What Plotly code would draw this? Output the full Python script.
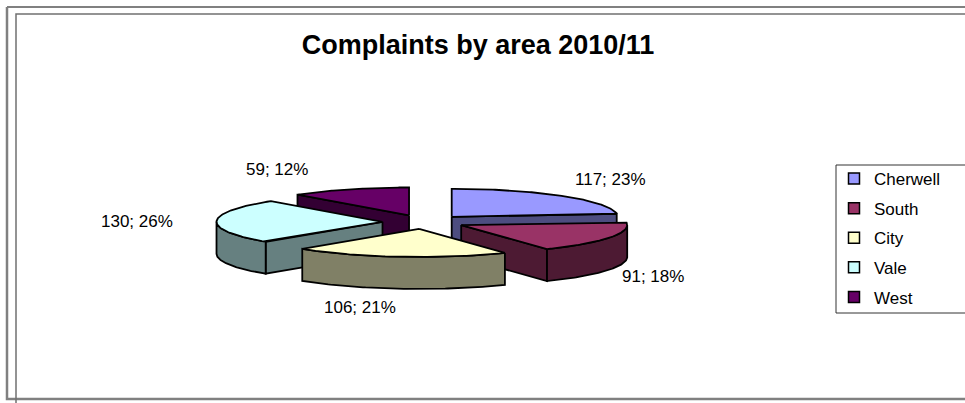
import numpy as np
import plotly.graph_objects as go

# ---- data ----
categories = ["Cherwell", "South", "City", "Vale", "West"]
values = [117, 91, 106, 130, 59]

# ---- style ----
top_colors = ["#9999FF", "#993366", "#FFFFCC", "#CCFFFF", "#660066"]
side_colors = ["#4D4D80", "#4D1A33", "#808066", "#668080", "#330033"]
label_xy = [(610, 179), (653, 276), (360, 307), (137, 221), (277, 169)]

W, H = 965, 403
CX, CY = 424, 222
RX, RY = 166, 28
DEPTH = 32
EXPLODE = 0.25
FONT = "Arial, Liberation Sans, sans-serif"

total = sum(values)
fracs = np.array(values) / total
starts = np.concatenate([[0], np.cumsum(fracs)[:-1]]) * 360
ends = starts + fracs * 360


def ell(ax, ay, ang, dz=0.0):
    r = np.radians(ang)
    return ax + RX * np.sin(r), ay - RY * np.cos(r) + dz


fig = go.Figure()
line = dict(color="black", width=1.8)


def add_poly(xs, ys, color):
    fig.add_trace(go.Scatter(x=list(xs) + [xs[0]], y=list(ys) + [ys[0]], mode="lines",
                             fill="toself", fillcolor=color, line=line,
                             hoverinfo="skip", showlegend=False))


apexes = []
for i in range(len(values)):
    mid = np.radians((starts[i] + ends[i]) / 2)
    apexes.append((CX + EXPLODE * RX * np.sin(mid), CY - EXPLODE * RY * np.cos(mid)))

order = sorted(range(len(values)), key=lambda i: apexes[i][1])
for i in order:
    a, b = starts[i], ends[i]
    ax, ay = apexes[i]
    # radial walls
    if np.sin(np.radians(a)) < -1e-6:
        ex, ey = ell(ax, ay, a)
        add_poly([ax, ex, ex, ax], [ay, ey, ey + DEPTH, ay + DEPTH], side_colors[i])
    if np.sin(np.radians(b)) > 1e-6:
        ex, ey = ell(ax, ay, b)
        add_poly([ax, ex, ex, ax], [ay, ey, ey + DEPTH, ay + DEPTH], side_colors[i])
    # outer curved wall (front half)
    t0, t1 = max(a, 90), min(b, 270)
    if t1 > t0:
        ts = np.linspace(t0, t1, 80)
        tx, ty = ell(ax, ay, ts)
        xs = np.concatenate([tx, tx[::-1]])
        ys = np.concatenate([ty, (ty + DEPTH)[::-1]])
        add_poly(xs, ys, side_colors[i])
    # top face
    ts = np.linspace(a, b, 100)
    tx, ty = ell(ax, ay, ts)
    add_poly(np.concatenate([[ax], tx]), np.concatenate([[ay], ty]), top_colors[i])

# legend entries
for i, c in enumerate(categories):
    fig.add_trace(go.Scatter(x=[None], y=[None], mode="markers", name=c,
                             legendgroup=f"g{i}",
                             marker=dict(symbol="square", size=11, color=top_colors[i],
                                         line=dict(color="black", width=1.5))))

annotations = []
for i, v in enumerate(values):
    pct = round(100 * v / total)
    annotations.append(dict(x=label_xy[i][0], y=label_xy[i][1], xref="x", yref="y",
                            text=f"{v}; {pct}%", showarrow=False,
                            font=dict(family=FONT, size=17, color="black"),
                            xanchor="center", yanchor="middle"))

shapes = [
    dict(type="path", path="M 7 7 L 990 7", line=dict(color="#808080", width=2)),
    dict(type="path", path="M 7 7 L 7 399 L 990 399", line=dict(color="#808080", width=2.5)),
    dict(type="path", path="M 16 420 L 16 14 L 990 14", line=dict(color="#707070", width=1.5)),
    dict(type="rect", x0=836, y0=165, x1=995, y1=313, xref="x", yref="y",
         line=dict(color="#333333", width=1), fillcolor="rgba(0,0,0,0)"),
]

fig.update_layout(
    width=W, height=H,
    margin=dict(l=0, r=0, t=0, b=0),
    paper_bgcolor="white", plot_bgcolor="white",
    xaxis=dict(range=[0, W], visible=False, fixedrange=True),
    yaxis=dict(range=[H, 0], visible=False, fixedrange=True),
    title=dict(text="<b>Complaints by area 2010/11</b>", x=478 / W, y=1 - 45 / H,
               xanchor="center", yanchor="middle", xref="paper", yref="paper",
               font=dict(family=FONT, size=27, color="black")),
    legend=dict(x=834 / W, y=1 - 161 / H, xanchor="left", yanchor="top",
                borderwidth=0, bgcolor="rgba(0,0,0,0)",
                font=dict(family=FONT, size=17, color="black"),
                tracegroupgap=4.5, traceorder="grouped"),
    annotations=annotations,
    shapes=shapes,
    showlegend=True,
)

fig.write_html("out.html")
